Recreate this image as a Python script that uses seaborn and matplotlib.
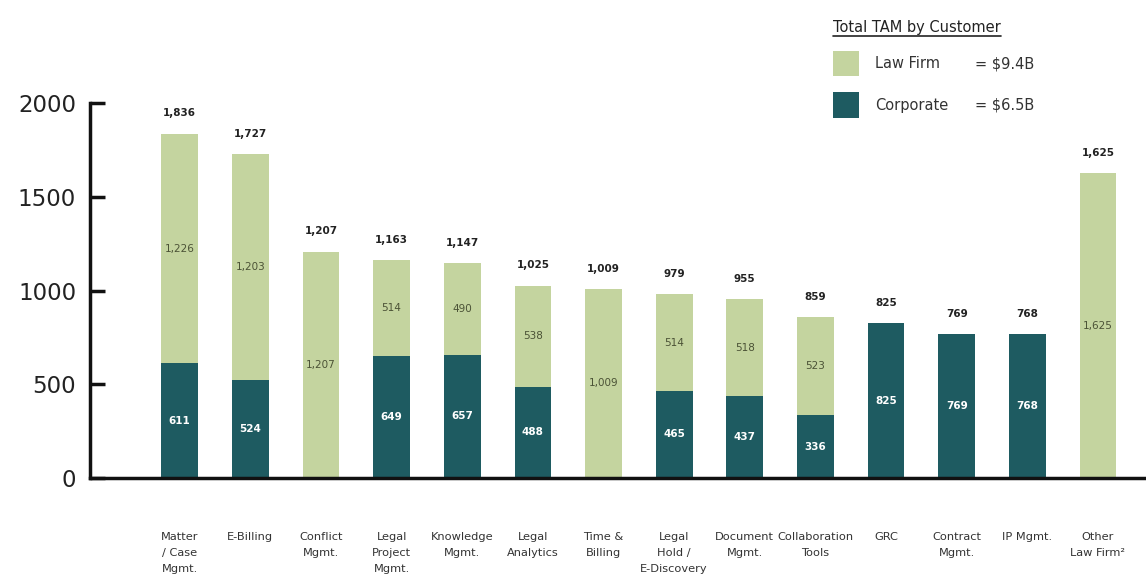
import matplotlib
matplotlib.use("Agg")
import matplotlib.pyplot as plt
from matplotlib.patches import Patch
from matplotlib.lines import Line2D
import seaborn as sns
import pandas as pd

# ---- data ----
categories = ["Matter\n/ Case\nMgmt.", "E-Billing", "Conflict\nMgmt.", "Legal\nProject\nMgmt.",
              "Knowledge\nMgmt.", "Legal\nAnalytics", "Time &\nBilling", "Legal\nHold /\nE-Discovery",
              "Document\nMgmt.", "Collaboration\nTools", "GRC", "Contract\nMgmt.", "IP Mgmt.",
              "Other\nLaw Firm\u00b2"]
corporate = [611, 524, 0, 649, 657, 488, 0, 465, 437, 336, 825, 769, 768, 0]
law_firm = [1226, 1203, 1207, 514, 490, 538, 1009, 514, 518, 523, 0, 0, 0, 1625]
totals = [1836, 1727, 1207, 1163, 1147, 1025, 1009, 979, 955, 859, 825, 769, 768, 1625]
y_ticks = [0, 500, 1000, 1500, 2000]
legend_title = "Total TAM by Customer"
legend_labels = ["Law Firm", "Corporate"]
legend_values = ["= $9.4B", "= $6.5B"]

LIGHT = "#c4d49f"
DARK = "#1e5b61"

sns.set_theme(style="white")
plt.rcParams["font.family"] = ["DejaVu Sans"]

W, H = 1146, 578
fig = plt.figure(figsize=(W / 100, H / 100), dpi=100)
ax = fig.add_axes([90 / W, 1 - 478 / H, 1 - 90 / W, (478 - 103) / H])

df = pd.DataFrame({"cat": categories,
                   "stack": [c + l for c, l in zip(corporate, law_firm)],
                   "corp": corporate})

sns.barplot(data=df, x="cat", y="stack", order=categories, color=LIGHT, saturation=1,
            width=0.52, linewidth=0, ax=ax)
sns.barplot(data=df, x="cat", y="corp", order=categories, color=DARK, saturation=1,
            width=0.52, linewidth=0, ax=ax)

ax.set_xlim(-1.27, 13.68)
ax.set_ylim(0, 2000)
ax.set_yticks(y_ticks)
ax.set_yticklabels([str(t) for t in y_ticks], fontsize=16.5, color="#222222")
ax.set_xlabel("")
ax.set_ylabel("")
ax.tick_params(axis="y", direction="in", length=11, width=2.5, color="#111111", pad=10, left=True)
ax.tick_params(axis="x", length=0, pad=39)
for lab in ax.get_xticklabels():
    lab.set_fontsize(8.2)
    lab.set_color("#333333")
    lab.set_linespacing(1.75)
    lab.set_verticalalignment("top")

for s in ["top", "right"]:
    ax.spines[s].set_visible(False)
for s in ["left", "bottom"]:
    ax.spines[s].set_linewidth(2.5)
    ax.spines[s].set_color("#111111")
ax.spines["left"].set_bounds(0, 2000)

# labels
for i, (c, l, t) in enumerate(zip(corporate, law_firm, totals)):
    top = c + l
    ax.annotate(f"{t:,}", (i, top), xytext=(0, 11), textcoords="offset points",
                ha="center", va="bottom", fontsize=7.5, fontweight="bold", color="#222222",
                annotation_clip=False)
    if c > 0:
        ax.text(i, c / 2, f"{c:,}", ha="center", va="center", fontsize=7.5,
                fontweight="bold", color="white")
    if l > 0:
        ax.text(i, c + l / 2, f"{l:,}", ha="center", va="center", fontsize=7.5,
                color="#4b5236")

# legend
handles = [Patch(facecolor=LIGHT, edgecolor="none"), Patch(facecolor=DARK, edgecolor="none")]
leg = ax.legend(handles, legend_labels, title=legend_title, loc="upper left",
                bbox_to_anchor=(833 / W, 1 - 20 / H), bbox_transform=fig.transFigure,
                frameon=False, fontsize=10.5, title_fontsize=10.5, handlelength=1.75,
                handleheight=2.3, handletextpad=1.15, labelspacing=1.1, borderpad=0,
                borderaxespad=0, alignment="left")
for t in leg.get_texts():
    t.set_color("#333333")
leg.get_title().set_color("#222222")

fig.canvas.draw()
r = fig.canvas.get_renderer()
tb = leg.get_title().get_window_extent(r)
fig.add_artist(Line2D([tb.x0 / W, tb.x1 / W], [(tb.y0 - 1) / H, (tb.y0 - 1) / H],
                      transform=fig.transFigure, color="#222222", lw=1.2))
for txt, val in zip(leg.get_texts(), legend_values):
    bb = txt.get_window_extent(r)
    fig.text(975 / W, (bb.y0 + bb.y1) / 2 / H, val, ha="left", va="center",
             fontsize=10.5, color="#333333")

fig.savefig("out.png", dpi=100)
